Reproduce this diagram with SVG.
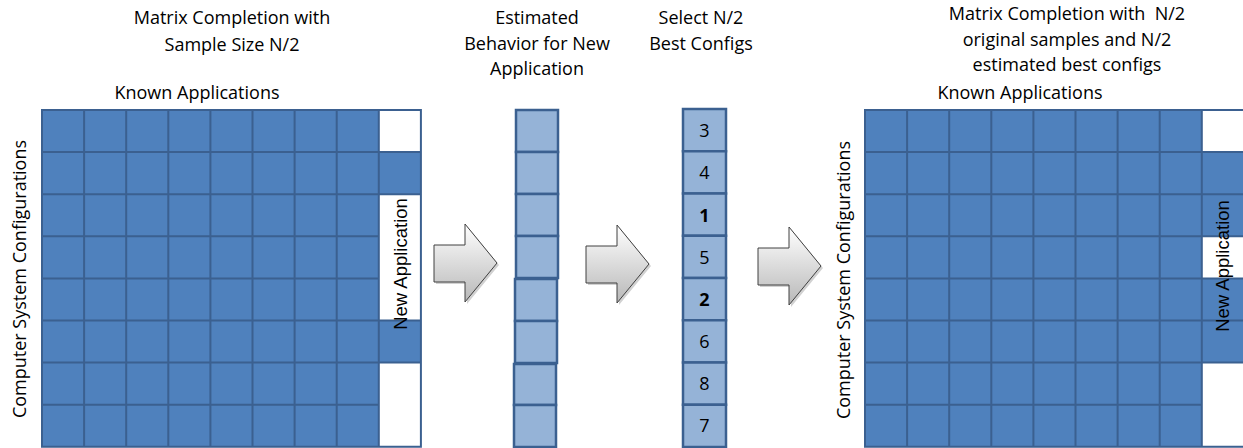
<svg xmlns="http://www.w3.org/2000/svg" width="1243" height="448" viewBox="0 0 1243 448">
<style>
.t{font-family:"Open Sans","Liberation Sans",sans-serif;font-size:18px;fill:#000;text-anchor:middle}
.na{font-family:"Liberation Sans",Arial,sans-serif;font-size:18.5px;fill:#000;text-anchor:middle}
.num{font-family:"Open Sans","Liberation Sans",sans-serif;font-size:18px;fill:#000;text-anchor:middle}
.b{font-weight:bold}
.blue{fill:#4F81BD}
.wht{fill:#FFFFFF}
.grid{fill:none;stroke:#3B6090;stroke-width:2}
.lc{fill:#95B3D7;stroke:#3B6090;stroke-width:2.5}
.arrow{fill:url(#ag);stroke:#404040;stroke-width:1}
</style>
<defs>
<linearGradient id="ag" x1="0" y1="0" x2="0" y2="1">
<stop offset="0" stop-color="#FFFFFF"/>
<stop offset="1" stop-color="#B8B8B8"/>
</linearGradient>
<path id="arr" d="M0 21 H31 V0 L63 39 L31 78 V58 H0 Z"/>
</defs>
<rect width="1243" height="448" fill="#FFFFFF"/>

<g id="title-left">
<text class="t" x="232" y="24">Matrix Completion with</text>
<text class="t" x="232" y="51">Sample Size N/2</text>
<text class="t" x="197" y="99">Known Applications</text>
<text class="t" transform="translate(26 279) rotate(-90)">Computer System Configurations</text>
</g>

<g id="matrix-left">
<rect class="blue" x="42" y="110" width="336.8" height="336.8"/>
<rect class="wht" x="378.8" y="110" width="42.1" height="42.1"/>
<rect class="blue" x="378.8" y="152.1" width="42.1" height="42.1"/>
<rect class="wht" x="378.8" y="194.2" width="42.1" height="126.3"/>
<rect class="blue" x="378.8" y="320.5" width="42.1" height="42.1"/>
<rect class="wht" x="378.8" y="362.6" width="42.1" height="84.2"/>
<path class="grid" d="M42 110H420.9V446.8H42Z M84.1 110V446.8 M126.2 110V446.8 M168.3 110V446.8 M210.4 110V446.8 M252.5 110V446.8 M294.6 110V446.8 M336.7 110V446.8 M378.8 110V446.8 M42 152.1H378.8 M42 194.2H378.8 M42 236.3H378.8 M42 278.4H378.8 M42 320.5H378.8 M42 362.6H378.8 M42 404.7H378.8 M378.8 152.1H420.9 M378.8 194.2H420.9 M378.8 320.5H420.9 M378.8 362.6H420.9"/>
<text class="na" transform="translate(406.5 264) rotate(-90)">New Application</text>
</g>

<g id="estimated">
<text class="t" x="537" y="24">Estimated</text>
<text class="t" x="537" y="50">Behavior for New</text>
<text class="t" x="537" y="75">Application</text>
<rect class="lc" x="516" y="110" width="42" height="42"/>
<rect class="lc" x="516" y="152" width="42" height="42"/>
<rect class="lc" x="516" y="194" width="42" height="42"/>
<rect class="lc" x="516" y="236" width="42" height="42"/>
<rect class="lc" x="515" y="279" width="42" height="42"/>
<rect class="lc" x="515" y="321" width="42" height="42"/>
<rect class="lc" x="514" y="364" width="42" height="41"/>
<rect class="lc" x="514" y="405" width="42" height="42"/>
</g>

<g id="select">
<text class="t" x="701" y="24">Select N/2</text>
<text class="t" x="701" y="50">Best Configs</text>
<rect class="lc" x="683" y="109" width="43" height="42.25"/>
<rect class="lc" x="683" y="151.25" width="43" height="42.25"/>
<rect class="lc" x="683" y="193.5" width="43" height="42.25"/>
<rect class="lc" x="683" y="235.75" width="43" height="42.25"/>
<rect class="lc" x="683" y="278" width="43" height="42.25"/>
<rect class="lc" x="683" y="320.25" width="43" height="42.25"/>
<rect class="lc" x="683" y="362.5" width="43" height="42.25"/>
<rect class="lc" x="683" y="404.75" width="43" height="42.25"/>
<text class="num" x="704.5" y="137">3</text>
<text class="num" x="704.5" y="179">4</text>
<text class="num b" x="704.5" y="222">1</text>
<text class="num" x="704.5" y="264">5</text>
<text class="num b" x="704.5" y="306">2</text>
<text class="num" x="704.5" y="348">6</text>
<text class="num" x="704.5" y="390">8</text>
<text class="num" x="704.5" y="432">7</text>
</g>

<g id="title-right">
<text class="t" x="1067" y="20" xml:space="preserve">Matrix Completion with  N/2</text>
<text class="t" x="1067" y="46">original samples and N/2</text>
<text class="t" x="1067" y="71">estimated best configs</text>
<text class="t" x="1020" y="99">Known Applications</text>
<text class="t" transform="translate(850 280) rotate(-90)">Computer System Configurations</text>
</g>

<g id="matrix-right">
<rect class="blue" x="865" y="110" width="336.8" height="336.8"/>
<rect class="wht" x="1201.8" y="110" width="42.1" height="42.1"/>
<rect class="blue" x="1201.8" y="152.1" width="42.1" height="84.2"/>
<rect class="wht" x="1201.8" y="236.3" width="42.1" height="42.1"/>
<rect class="blue" x="1201.8" y="278.4" width="42.1" height="84.2"/>
<rect class="wht" x="1201.8" y="362.6" width="42.1" height="84.2"/>
<path class="grid" d="M1243.9 110H865V446.8H1243.9 M907.1 110V446.8 M949.2 110V446.8 M991.3 110V446.8 M1033.4 110V446.8 M1075.5 110V446.8 M1117.6 110V446.8 M1159.7 110V446.8 M1201.8 110V446.8 M865 152.1H1243.9 M865 194.2H1243.9 M865 236.3H1243.9 M865 278.4H1243.9 M865 320.5H1243.9 M865 362.6H1243.9 M865 404.7H1201.8"/>
<text class="na" transform="translate(1228.5 266) rotate(-90)">New Application</text>
</g>

<g id="connectors">
<use href="#arr" x="436" y="226" fill="#000" opacity="0.18"/>
<use href="#arr" class="arrow" x="434" y="224"/>
<use href="#arr" x="588" y="227" fill="#000" opacity="0.18"/>
<use href="#arr" class="arrow" x="586" y="225"/>
<use href="#arr" x="760" y="229" fill="#000" opacity="0.18"/>
<use href="#arr" class="arrow" x="758" y="227"/>
</g>
</svg>
